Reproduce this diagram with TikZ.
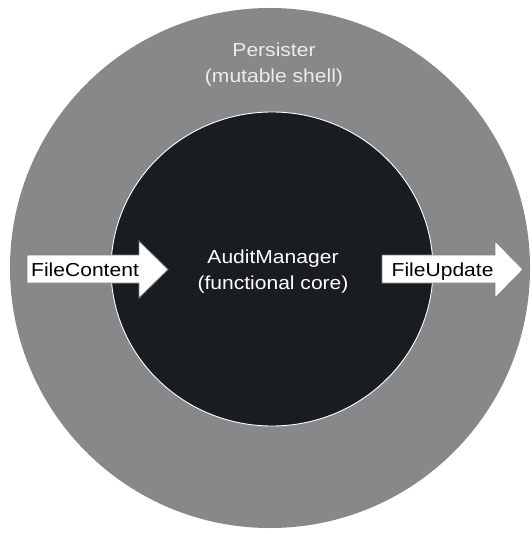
\documentclass[tikz,border=0pt]{standalone}
\usepackage{fontspec}
\setmainfont{Liberation Sans}[FakeStretch=1.12]
\definecolor{shellgray}{HTML}{87888A}
\definecolor{coreblack}{HTML}{1A1D1F}
\definecolor{lightlbl}{HTML}{ECECEC}
\definecolor{arrowedge}{HTML}{7F8082}
\begin{document}
\begin{tikzpicture}[x=1pt,y=-1pt,
  lbl/.style={inner sep=0pt,font=\fontsize{18.8}{26}\selectfont},
  flowarrow/.style={fill=white,draw=arrowedge,line width=0.8pt,line join=miter}]
\useasboundingbox (0,0) rectangle (531,534);
% outer shell
\fill[shellgray] (270,268) circle[radius=260];
% inner core
\filldraw[fill=coreblack,draw=white,line width=0.9pt] (272,269) ellipse[x radius=161,y radius=157];
% shell label
\node[lbl,text=lightlbl,anchor=base] (persister) at (274,57) {Persister};
\node[lbl,text=lightlbl,anchor=base] (mutable) at (274,83) {(mutable shell)};
% core label
\node[lbl,text=white,anchor=base] (audit) at (273,263) {AuditManager};
\node[lbl,text=white,anchor=base] (functional) at (273,289) {(functional core)};
% arrows
\draw[flowarrow] (27,255) -- (139,255) -- (139,241) -- (168,269.5) -- (139,298) -- (139,283) -- (27,283) -- cycle;
\node[lbl,text=black,anchor=base west] (filecontent) at (31,276) {FileContent};
\draw[flowarrow] (382,255) -- (495,255) -- (495,241) -- (523,269.5) -- (495,298) -- (495,283) -- (382,283) -- cycle;
\node[lbl,text=black,anchor=base west] (fileupdate) at (391.5,276) {FileUpdate};
\end{tikzpicture}
\end{document}
